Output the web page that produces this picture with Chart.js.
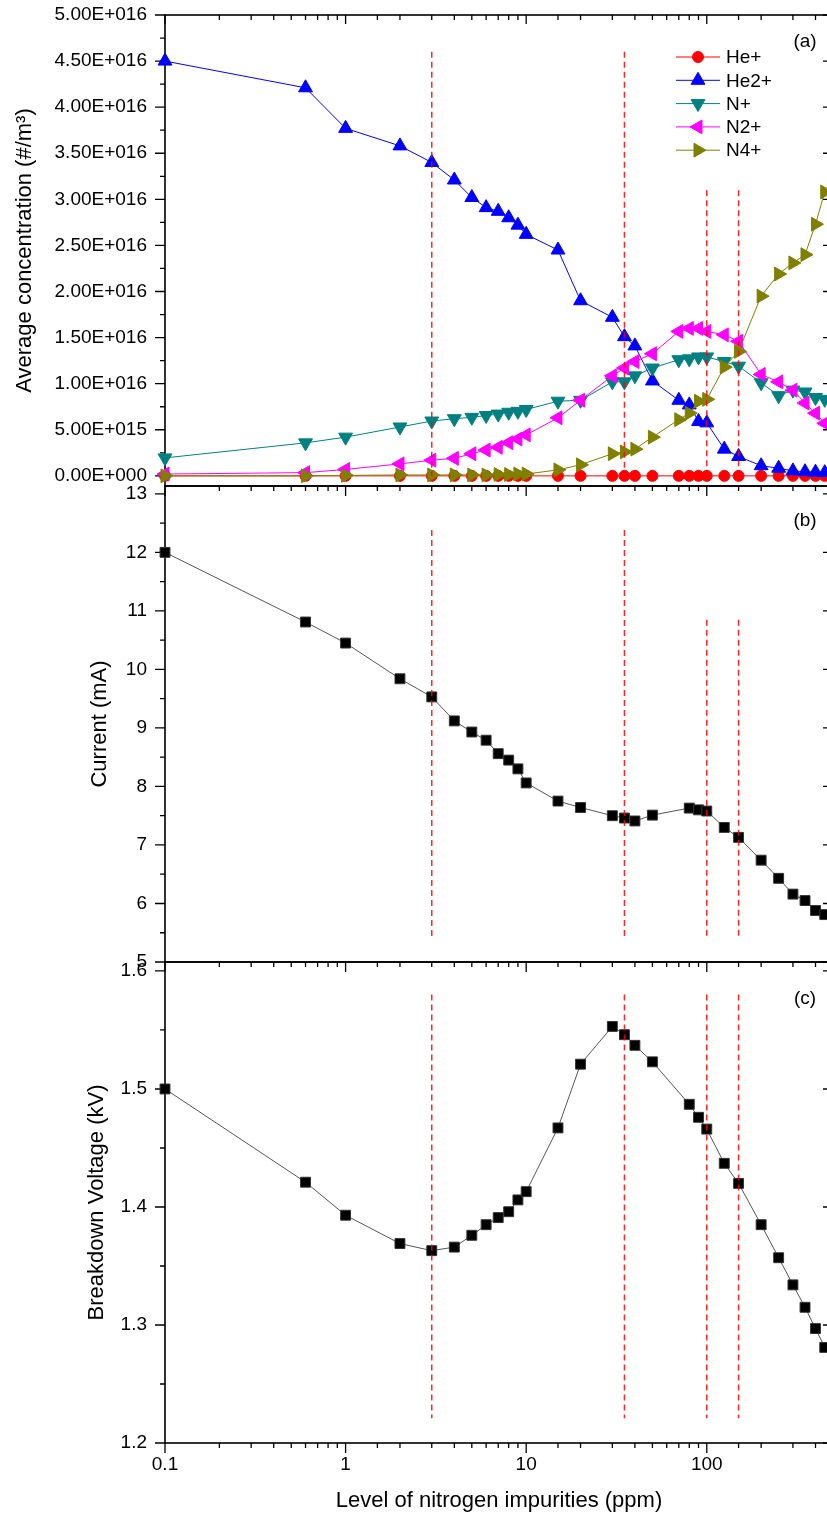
<!DOCTYPE html>
<html>
<head>
<meta charset="utf-8">
<script src="https://cdn.jsdelivr.net/npm/chart.js@4.4.0/dist/chart.umd.min.js"></script>
<style>
  html, body { margin: 0; padding: 0; background: #fff; overflow: hidden; }
  #wrap { position: relative; width: 827px; height: 1514px; overflow: hidden; background: #fff; }
  canvas { position: absolute; left: 0; }
  #cA { top: -25px; }
  #cB { top: 446px; }
  #cC { top: 922px; }
</style>
</head>
<body>
<div id="wrap">
  <canvas id="cA" width="850" height="545"></canvas>
  <canvas id="cB" width="850" height="550"></canvas>
  <canvas id="cC" width="850" height="592"></canvas>
</div>
<script>
Chart.defaults.font.family = "'Liberation Sans', Arial, sans-serif";
Chart.defaults.font.size = 19;
Chart.defaults.color = '#000';

// nitrogen impurity level (ppm)
const ppmConc = [0.1, 0.6, 1, 2, 3, 4, 5, 6, 7, 8, 9, 10, 15, 20, 30, 35, 40, 50, 70, 80, 90, 100, 125, 150, 200, 250, 300, 350, 400, 450];
const ppmElec = [0.1, 0.6, 1, 2, 3, 4, 5, 6, 7, 8, 9, 10, 15, 20, 30, 35, 40, 50, 80, 90, 100, 125, 150, 200, 250, 300, 350, 400, 450];

// (a) average concentration, in units of 1E+16 #/m3
const E16 = 1e16;
const heIon  = [0, 0, 0, 0, 0, 0, 0, 0, 0, 0, 0, 0, 0, 0, 0, 0, 0, 0, 0, 0, 0, 0, 0, 0, 0, 0, 0, 0, 0, 0];
const he2Ion = [4.50, 4.21, 3.77, 3.58, 3.40, 3.21, 3.02, 2.91, 2.87, 2.80, 2.72, 2.62, 2.45, 1.90, 1.72, 1.51, 1.41, 1.03, 0.82, 0.77, 0.59, 0.575, 0.29, 0.21, 0.11, 0.083, 0.054, 0.045, 0.04, 0.035];
const nIon   = [0.195, 0.358, 0.42, 0.53, 0.595, 0.62, 0.635, 0.655, 0.67, 0.69, 0.70, 0.72, 0.81, 0.82, 1.02, 1.02, 1.085, 1.17, 1.26, 1.27, 1.29, 1.29, 1.24, 1.19, 1.01, 0.87, 0.93, 0.91, 0.85, 0.83];
const n2Ion  = [0.02, 0.035, 0.07, 0.13, 0.17, 0.19, 0.24, 0.28, 0.31, 0.36, 0.40, 0.445, 0.63, 0.82, 1.085, 1.17, 1.24, 1.325, 1.567, 1.60, 1.60, 1.567, 1.53, 1.46, 1.10, 1.02, 0.93, 0.79, 0.68, 0.57];
const n4Ion  = [0, 0, 0.005, 0.01, 0.01, 0.01, 0.01, 0.01, 0.015, 0.015, 0.02, 0.02, 0.065, 0.12, 0.24, 0.26, 0.29, 0.42, 0.61, 0.68, 0.81, 0.83, 1.18, 1.35, 1.95, 2.19, 2.31, 2.40, 2.73, 3.08];

// (b) current (mA), (c) breakdown voltage (kV)
const current = [12.0, 10.81, 10.45, 9.84, 9.53, 9.12, 8.93, 8.79, 8.56, 8.45, 8.30, 8.06, 7.75, 7.64, 7.50, 7.46, 7.41, 7.51, 7.63, 7.60, 7.58, 7.30, 7.13, 6.74, 6.43, 6.16, 6.05, 5.88, 5.81];
const voltage = [1.500, 1.421, 1.393, 1.369, 1.363, 1.366, 1.376, 1.385, 1.391, 1.396, 1.406, 1.413, 1.467, 1.521, 1.553, 1.546, 1.537, 1.523, 1.487, 1.476, 1.466, 1.437, 1.420, 1.385, 1.357, 1.334, 1.315, 1.297, 1.281];

// red dashed guide lines
const guidePpm = [3, 35, 100, 150];
const concGuideTop = [4.6, 4.6, 3.1, 3.1];
const concGuideBottom = [0, 0, 0, 0];
const currGuideTop = [12.38, 12.38, 10.85, 10.85];
const currGuideBottom = [5.38, 5.38, 5.38, 5.38];
const voltGuideTop = [1.58, 1.58, 1.58, 1.58];
const voltGuideBottom = [1.221, 1.221, 1.221, 1.221];

// axis ticks
const concTicks = [0, 5e15, 1e16, 1.5e16, 2e16, 2.5e16, 3e16, 3.5e16, 4e16, 4.5e16, 5e16];
const concTickLabels = ['0.00E+000', '5.00E+015', '1.00E+016', '1.50E+016', '2.00E+016', '2.50E+016', '3.00E+016', '3.50E+016', '4.00E+016', '4.50E+016', '5.00E+016'];
const currTicks = [5, 6, 7, 8, 9, 10, 11, 12, 13];
const currTickLabels = ['5', '6', '7', '8', '9', '10', '11', '12', '13'];
const voltTicks = [1.2, 1.3, 1.4, 1.5, 1.6];
const voltTickLabels = ['1.2', '1.3', '1.4', '1.5', '1.6'];
const xDecades = [0.1, 1, 10, 100];
const xDecadeLabels = ['0.1', '1', '10', '100'];

const ions = [
  { label: 'He+',  values: heIon,  color: '#ff0000', style: 'circle',   rot: 0,   r: 5.5 },
  { label: 'He2+', values: he2Ion, color: '#0000ff', style: 'triangle', rot: 0,   r: 8 },
  { label: 'N+',   values: nIon,   color: '#008080', style: 'triangle', rot: 180, r: 8 },
  { label: 'N2+',  values: n2Ion,  color: '#ff00ff', style: 'triangle', rot: -90, r: 8 },
  { label: 'N4+',  values: n4Ion,  color: '#808000', style: 'triangle', rot: 90,  r: 8 }
];

function guideSets(tops, bottoms, scale) {
  return guidePpm.map((p, i) => ({
    data: [{ x: p, y: tops[i] * scale }, { x: p, y: bottoms[i] * scale }],
    borderColor: 'rgba(255,0,0,0.85)', borderWidth: 1.5, borderDash: [6, 4],
    pointRadius: 0, order: 0, clip: false
  }));
}

function squareSet(values) {
  return {
    data: ppmElec.map((x, k) => ({ x: x, y: values[k] })),
    borderColor: '#555', borderWidth: 1,
    pointStyle: 'rect', pointRadius: 7,
    pointBackgroundColor: '#000', pointBorderColor: '#333', pointBorderWidth: 1,
    order: 5, clip: false
  };
}

const ionSets = ions.map((s, i) => ({
  label: s.label,
  data: ppmConc.map((x, k) => ({ x: x, y: s.values[k] * E16 })),
  borderColor: s.color, backgroundColor: s.color, borderWidth: 1,
  pointStyle: s.style, pointRotation: s.rot, pointRadius: s.r,
  pointBackgroundColor: s.color, pointBorderColor: s.color, pointBorderWidth: 1,
  order: 10 - i, clip: false, inLegend: true
}));

// frame, tick marks and panel letter
const framePlugin = {
  id: 'frame',
  beforeDatasetsDraw(chart, args, opts) {
    const { ctx, chartArea: a, scales: { x, y } } = chart;
    ctx.save();
    ctx.strokeStyle = '#000';
    ctx.lineWidth = 1.6;
    ctx.strokeRect(a.left, a.top, a.right - a.left, a.bottom - a.top);
    ctx.lineWidth = 1.3;
    ctx.beginPath();
    x.ticks.forEach(t => {
      const px = x.getPixelForValue(t.value);
      const lg = Math.log10(t.value);
      const major = Math.abs(lg - Math.round(lg)) < 1e-6;
      ctx.moveTo(px, a.bottom);
      ctx.lineTo(px, a.bottom + (major ? 10 : 5));
      if (opts.topTicks) {
        ctx.moveTo(px, a.top);
        ctx.lineTo(px, a.top + (major ? 9 : 5));
      }
    });
    const vals = y.ticks.map(t => t.value);
    vals.forEach((v, i) => {
      const py = y.getPixelForValue(v);
      ctx.moveTo(a.left - 10, py); ctx.lineTo(a.left, py);
      ctx.moveTo(a.right - 10, py); ctx.lineTo(a.right, py);
      if (i > 0) {
        const pm = y.getPixelForValue((v + vals[i - 1]) / 2);
        ctx.moveTo(a.left - 5, pm); ctx.lineTo(a.left, pm);
      }
    });
    ctx.stroke();
    ctx.fillStyle = '#000';
    ctx.font = "19px 'Liberation Sans', Arial, sans-serif";
    ctx.textAlign = 'center';
    ctx.textBaseline = 'middle';
    ctx.fillText(opts.label, 805, a.top + opts.labelDy);
    ctx.restore();
  }
};

function markerShape(ctx, ds, cx, cy) {
  const opt = { pointStyle: ds.pointStyle, rotation: ds.pointRotation, radius: ds.pointRadius, borderWidth: 1 };
  if (Chart.helpers && Chart.helpers.drawPoint) {
    Chart.helpers.drawPoint(ctx, opt, cx, cy);
    return;
  }
  ctx.beginPath();
  if (ds.pointStyle === 'circle') {
    ctx.arc(cx, cy, ds.pointRadius, 0, Math.PI * 2);
  } else {
    let rad = ds.pointRotation * Math.PI / 180;
    for (let k = 0; k < 3; k++) {
      const px = cx + Math.sin(rad) * ds.pointRadius, py = cy - Math.cos(rad) * ds.pointRadius;
      if (k === 0) ctx.moveTo(px, py); else ctx.lineTo(px, py);
      rad += Math.PI * 2 / 3;
    }
    ctx.closePath();
  }
  ctx.fill();
  ctx.stroke();
}

const legendPlugin = {
  id: 'ionLegend',
  afterDatasetsDraw(chart) {
    const { ctx, chartArea: a } = chart;
    ctx.save();
    ctx.font = "19px 'Liberation Sans', Arial, sans-serif";
    ctx.textAlign = 'left';
    ctx.textBaseline = 'middle';
    chart.data.datasets.filter(d => d.inLegend).forEach((ds, i) => {
      const cy = a.top + 42 + i * 23.3;
      ctx.strokeStyle = ds.borderColor;
      ctx.fillStyle = ds.backgroundColor;
      ctx.lineWidth = 1;
      ctx.beginPath();
      ctx.moveTo(676, cy); ctx.lineTo(720, cy);
      ctx.stroke();
      markerShape(ctx, ds, 698, cy);
      ctx.fillStyle = '#000';
      ctx.fillText(ds.label, 726, cy + 1);
    });
    ctx.restore();
  }
};

function hiddenX(h) {
  return {
    type: 'logarithmic', min: 0.1, max: 500,
    grid: { display: false, drawTicks: false }, border: { display: false },
    ticks: { display: false },
    afterFit: s => { s.height = h; }
  };
}

function leftY(min, max, ticks, labels, title, titlePad) {
  return {
    min: min, max: max,
    afterBuildTicks: s => { s.ticks = ticks.map(v => ({ value: v })); },
    ticks: { padding: 18, font: { size: 19 }, callback: (v, i) => labels[i] },
    grid: { display: false, drawTicks: false }, border: { display: false },
    title: { display: true, text: title, font: { size: 22 }, padding: { top: titlePad, bottom: 0 } },
    afterFit: s => { s.width = 165; }
  };
}

const common = {
  responsive: false, animation: false, devicePixelRatio: 1,
  elements: { line: { tension: 0 } }
};

new Chart(document.getElementById('cA'), {
  type: 'line',
  data: { datasets: ionSets.concat(guideSets(concGuideTop, concGuideBottom, E16)) },
  options: Object.assign({}, common, {
    layout: { padding: { top: 40, left: 0, right: 17, bottom: 20 } },
    scales: {
      x: hiddenX(14),
      y: leftY(-1.1e15, 5e16, concTicks, concTickLabels, 'Average concentration (#/m\u00b3)', 12)
    },
    plugins: {
      legend: { display: false }, tooltip: { enabled: false },
      frame: { topTicks: true, label: '(a)', labelDy: 27 }
    }
  }),
  plugins: [framePlugin, legendPlugin]
});

new Chart(document.getElementById('cB'), {
  type: 'line',
  data: { datasets: [squareSet(current)].concat(guideSets(currGuideTop, currGuideBottom, 1)) },
  options: Object.assign({}, common, {
    layout: { padding: { top: 40, left: 0, right: 17, bottom: 20 } },
    scales: {
      x: hiddenX(14),
      y: leftY(5, 13.134, currTicks, currTickLabels, 'Current (mA)', 87)
    },
    plugins: {
      legend: { display: false }, tooltip: { enabled: false },
      frame: { topTicks: false, label: '(b)', labelDy: 35 }
    }
  }),
  plugins: [framePlugin]
});

new Chart(document.getElementById('cC'), {
  type: 'line',
  data: { datasets: [squareSet(voltage)].concat(guideSets(voltGuideTop, voltGuideBottom, 1)) },
  options: Object.assign({}, common, {
    layout: { padding: { top: 40, left: 0, right: 17, bottom: 0 } },
    scales: {
      x: {
        type: 'logarithmic', min: 0.1, max: 500,
        grid: { display: false, drawTicks: false }, border: { display: false },
        ticks: {
          autoSkip: false, maxRotation: 0, minRotation: 0, padding: 10, font: { size: 19 },
          callback: v => {
            const k = xDecades.findIndex(d => Math.abs(d - v) < d * 1e-6);
            return k >= 0 ? xDecadeLabels[k] : '';
          }
        },
        title: { display: true, text: 'Level of nitrogen impurities (ppm)', font: { size: 22 }, padding: { top: 0, bottom: 0 } },
        afterFit: s => { s.height = 71; }
      },
      y: leftY(1.2, 1.6076, voltTicks, voltTickLabels, 'Breakdown Voltage (kV)', 84)
    },
    plugins: {
      legend: { display: false }, tooltip: { enabled: false },
      frame: { topTicks: false, label: '(c)', labelDy: 37 }
    }
  }),
  plugins: [framePlugin]
});
</script>
</body>
</html>
